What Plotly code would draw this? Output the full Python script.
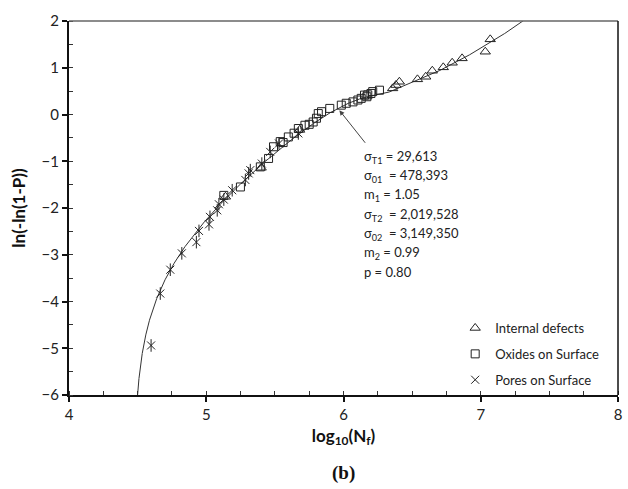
import numpy as np
import plotly.graph_objects as go

# Fitted bimodal three-parameter Weibull model (cycles)
sigma_T1 = 29613
sigma_01 = 478393
m1 = 1.05
sigma_T2 = 2019528
sigma_02 = 3149350
m2 = 0.99
p_mix = 0.80

# Failure data: log10(Nf) and ln(-ln(1-P)) by initiation site
internal_x = [5.14, 5.40, 5.68, 6.358, 6.382, 6.407, 6.539, 6.599, 6.647, 6.727,
              6.792, 6.864, 7.033, 7.069]
internal_y = [-1.76, -1.14, -0.33, 0.559, 0.630, 0.700, 0.752, 0.807, 0.936, 1.009,
              1.107, 1.201, 1.343, 1.608]

oxides_x = [5.128, 5.249, 5.394, 5.454, 5.49, 5.539, 5.56, 5.598, 5.64, 5.671,
            5.719, 5.75, 5.779, 5.803, 5.816, 5.84, 5.90, 5.984, 6.02, 6.069,
            6.105, 6.129, 6.153, 6.17, 6.177, 6.20, 6.213, 6.262]
oxides_y = [-1.73, -1.55, -1.12, -0.94, -0.69, -0.58, -0.60, -0.48, -0.40, -0.30,
            -0.23, -0.21, -0.16, -0.08, 0.02, 0.06, 0.13, 0.20, 0.24, 0.27,
            0.31, 0.345, 0.415, 0.38, 0.42, 0.45, 0.49, 0.52]

pores_x = [4.598, 4.665, 4.738, 4.822, 4.928, 4.947, 5.02, 5.027, 5.08, 5.092,
           5.128, 5.189, 5.285, 5.309, 5.321, 5.405, 5.466, 5.53, 5.671]
pores_y = [-4.94, -3.83, -3.32, -2.97, -2.73, -2.49, -2.35, -2.19, -2.05, -1.92,
           -1.82, -1.62, -1.40, -1.26, -1.19, -1.05, -0.80, -0.62, -0.405]

x_ticks = [4, 5, 6, 7, 8]
y_ticks = [-6, -5, -4, -3, -2, -1, 0, 1, 2]

# Model curve from the fitted parameters
N = sigma_T1 + np.logspace(1, 8.1, 4000)
A1 = ((N - sigma_T1) / sigma_01) ** m1
A2 = np.where(N > sigma_T2, (np.clip(N - sigma_T2, 0, None) / sigma_02) ** m2, 0.0)
S = p_mix * np.exp(-A1) + (1 - p_mix) * np.exp(-A2)
curve_x = np.log10(N)
curve_y = np.log(-np.log(S))

# Plot-area geometry in pixels
W, H = 628, 489
L, R, T, B = 69, 6, 21, 94
PH = H - T - B
PW = W - L - R


def py2paper(py):
    return (H - B - py) / PH


def px2paper(px):
    return (px - L) / PW


FONT = "Lato, 'Noto Sans', sans-serif"
INK = "#222222"

fig = go.Figure()

fig.add_trace(go.Scatter(
    x=curve_x, y=curve_y, mode="lines",
    line=dict(color="#333333", width=1), showlegend=False, hoverinfo="skip"))

fig.add_trace(go.Scatter(
    x=internal_x, y=internal_y, mode="markers", name="Internal defects",
    legendgroup="a",
    marker=dict(symbol="triangle-up-open", size=9, color=INK, line=dict(width=1))))

fig.add_trace(go.Scatter(
    x=oxides_x, y=oxides_y, mode="markers", name="Oxides on Surface",
    legendgroup="b",
    marker=dict(symbol="square-open", size=8, color=INK, line=dict(width=1))))

fig.add_trace(go.Scatter(
    x=pores_x, y=pores_y, mode="markers", name="Pores on Surface",
    legendgroup="c",
    marker=dict(symbol="x-thin-open", size=8, color=INK, line=dict(width=1, color=INK))))
fig.add_trace(go.Scatter(
    x=pores_x, y=pores_y, mode="markers", name="Pores on Surface",
    legendgroup="c", showlegend=False,
    marker=dict(symbol="line-ns-open", size=9, color=INK, line=dict(width=1, color=INK))))

# Parameter block
lines = [
    f"σ<sub>T1</sub> = {sigma_T1:,}",
    f"σ<sub>01</sub>\u00a0 = {sigma_01:,}",
    f"m<sub>1</sub> = {m1:.2f}",
    f"σ<sub>T2</sub>\u00a0 = {sigma_T2:,}",
    f"σ<sub>02</sub>\u00a0 = {sigma_02:,}",
    f"m<sub>2</sub> = {m2:.2f}",
    f"p = {p_mix:.2f}",
]
annotations = []
for k, txt in enumerate(lines):
    annotations.append(dict(
        text=txt, xref="paper", yref="paper",
        x=px2paper(364), y=py2paper(157 + 19.2 * k),
        xanchor="left", yanchor="middle", showarrow=False,
        font=dict(family=FONT, size=13, color=INK)))

# Arrow pointing at the curve
annotations.append(dict(
    text="", x=5.97, y=0.09, xref="x", yref="y",
    ax=27, ay=34, showarrow=True, arrowhead=2, arrowsize=1,
    arrowwidth=1, arrowcolor="#444444", standoff=0))

# Panel label
annotations.append(dict(
    text="<b>(b)</b>", xref="paper", yref="paper",
    x=0.5, y=py2paper(473), xanchor="center", yanchor="middle",
    showarrow=False,
    font=dict(family="'Liberation Serif', 'Times New Roman', serif", size=19, color="#111111")))

fig.update_layout(
    width=W, height=H,
    margin=dict(l=L, r=R, t=T, b=B),
    paper_bgcolor="white", plot_bgcolor="white",
    font=dict(family=FONT, size=15, color=INK),
    annotations=annotations,
    showlegend=True,
    legend=dict(
        x=px2paper(458), y=py2paper(313), xanchor="left", yanchor="top",
        bgcolor="rgba(0,0,0,0)", font=dict(family=FONT, size=13, color=INK),
        traceorder="grouped", tracegroupgap=6, itemwidth=30),
    shapes=[
        dict(type="line", xref="paper", yref="paper", x0=0, x1=1, y0=1, y1=1,
             line=dict(color="#666666", width=1.5), layer="above"),
        dict(type="line", xref="paper", yref="paper", x0=1, x1=1, y0=0, y1=1,
             line=dict(color="#111111", width=1.5), layer="above"),
    ],
)

fig.update_xaxes(
    range=[4, 8], tickvals=x_ticks, ticks="outside", ticklen=5, tickwidth=1.5,
    tickcolor="#111111", showline=True, linecolor="#111111", linewidth=2,
    showgrid=False, zeroline=False,
    minor=dict(dtick=0.25, ticks="inside", ticklen=4, tickwidth=1, tickcolor="#333333", showgrid=False),
    title=dict(text="<b>log<sub>10</sub>(N<sub>f</sub>)</b>",
               font=dict(family=FONT, size=17, color="#111111"), standoff=8),
    tickfont=dict(family=FONT, size=15, color=INK))

fig.update_yaxes(
    range=[-6, 2], tickvals=y_ticks, ticks="outside", ticklen=5, tickwidth=1.5,
    tickcolor="#111111", showline=True, linecolor="#111111", linewidth=2,
    showgrid=False, zeroline=False,
    minor=dict(dtick=0.5, ticks="inside", ticklen=4, tickwidth=1, tickcolor="#333333", showgrid=False),
    title=dict(text="<b>ln(-ln(1-P))</b>",
               font=dict(family=FONT, size=17, color="#111111"), standoff=12),
    tickfont=dict(family=FONT, size=15, color=INK))

fig.write_html("out.html")
